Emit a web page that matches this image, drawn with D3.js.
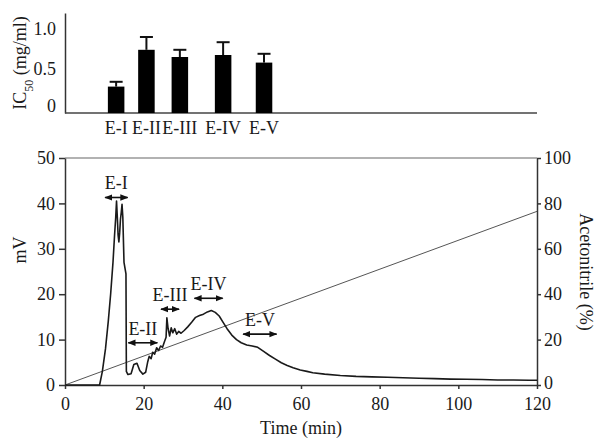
<!DOCTYPE html>
<html>
<head>
<meta charset="utf-8">
<script src="https://cdn.jsdelivr.net/npm/d3@7"></script>
<style>
  body { margin: 0; background: #fff; }
  svg text { font-family: "Liberation Serif", "Times New Roman", serif; fill: #1a1a1a; }
  .axis path, .axis line { stroke: #333; stroke-width: 1.5; }
  .axis text { font-size: 18px; }
</style>
</head>
<body>
<div id="chart"></div>
<script>
// fractions (top panel)
var fractions = ["E-I", "E-II", "E-III", "E-IV", "E-V"];
var fracTime = [13.0, 20.7, 29.2, 40.2, 50.6];   // where each bar sits on the time axis (min)
var ic50 = [0.33, 0.79, 0.70, 0.725, 0.63];
var ic50Err = [0.06, 0.16, 0.09, 0.16, 0.11];

// collection windows (arrows) for each fraction
var fracStart = [10.2, 16.1, 24.4, 32.9, 45.3];
var fracEnd = [15.9, 23.5, 29.0, 40.1, 53.8];
var fracLevel = [41.3, 9.3, 16.7, 19.1, 11.2];   // mV

// chromatogram
var time = [0, 8.8, 9.5, 10.3, 11.0, 11.6, 12.2, 12.6, 12.9, 13.1, 13.3, 13.5, 13.7, 13.9, 14.1, 14.3,
  14.5, 14.7, 15.0, 15.5, 15.6, 16.0, 16.8, 17.5, 18.3, 19.0, 19.8, 20.5, 21.0, 21.4, 21.9, 22.3,
  22.8, 23.3, 23.8, 24.3, 24.8, 25.3, 25.7, 25.9, 26.2, 26.6, 27.0, 27.4, 27.9, 28.4, 28.9, 29.5,
  30.3, 31.2, 32.2, 33.2, 34.2, 35.2, 36.2, 37.2, 38.2, 39.2, 40.2, 41.2, 42.4, 43.6, 44.8, 46.2,
  47.6, 49.0, 50.5, 52.0, 53.5, 55.0, 56.5, 58.0, 59.8, 61.5, 63.0, 66.0, 70.0, 74.0, 78.0, 82.0,
  86.0, 90.0, 94.0, 98.0, 102.0, 106.0, 110.0, 114.0, 118.0, 120];
var mV = [0, 0, 3, 8, 14, 20, 27, 33, 37, 40.5, 37, 33, 31.5, 33.5, 36.5, 38,
  39.8, 37, 27, 24.5, 3, 2.3, 2.5, 4.5, 4.8, 3.2, 2.4, 2.8, 5.0, 6.3, 5.8, 7.2,
  6.8, 8.2, 7.6, 8.6, 8.3, 9.6, 10.5, 14.8, 12.5, 10.8, 12.6, 11.5, 12.4, 11.2, 11.8, 11.4,
  12.0, 12.8, 13.8, 14.9, 15.3, 15.6, 16.1, 16.4, 16.0, 15.2, 13.8, 12.4, 11.0, 10.0, 9.3, 8.8,
  8.6, 8.3, 7.4, 6.5, 5.7, 4.9, 4.3, 3.8, 3.3, 3.0, 2.7, 2.4, 2.1, 1.9, 1.8, 1.7,
  1.6, 1.5, 1.4, 1.3, 1.25, 1.2, 1.1, 1.1, 1.05, 1.05];

// acetonitrile gradient
var gradTime = [0, 120];
var gradPct = [0, 76.5];

var xTicks = [0, 20, 40, 60, 80, 100, 120];
var mvTicks = [0, 10, 20, 30, 40, 50];
var pctTicks = [0, 20, 40, 60, 80, 100];
var icTicks = [0, 0.5, 1.0];

var svg = d3.select("#chart").append("svg")
  .attr("width", 595)
  .attr("height", 440);

var left = 65, right = 537;

var x = d3.scaleLinear().domain([0, 120]).range([left, right]);
var yMv = d3.scaleLinear().domain([0, 50]).range([385, 158]);
var yPct = d3.scaleLinear().domain([0, 100]).range([385, 158]);
var yIc = d3.scaleLinear().domain([0, 1.25]).range([113, 13]);

// ---------------- top panel ----------------
var topPanel = svg.append("g");

topPanel.append("g")
  .attr("class", "axis")
  .attr("transform", `translate(${left},0)`)
  .call(d3.axisLeft(yIc).tickValues(icTicks).tickSize(0).tickPadding(9)
    .tickFormat(d => d === 0 ? "0" : d3.format(".1f")(d)))
  .call(g => g.selectAll("text").attr("dy", "0.1em"))
  .call(g => g.selectAll(".tick").filter(d => d === 0).select("text").attr("dy", "-0.1em"));

topPanel.append("line")
  .attr("x1", left).attr("x2", right)
  .attr("y1", yIc(0)).attr("y2", yIc(0))
  .attr("stroke", "#444").attr("stroke-width", 1.5);

var barW = x(4.2) - x(0);
var capW = 13;

topPanel.selectAll(".err")
  .data(fractions)
  .enter()
  .append("line")
  .attr("x1", (d, i) => x(fracTime[i]))
  .attr("x2", (d, i) => x(fracTime[i]))
  .attr("y1", (d, i) => yIc(ic50[i]))
  .attr("y2", (d, i) => yIc(ic50[i] + ic50Err[i]))
  .attr("stroke", "#111").attr("stroke-width", 2);

topPanel.selectAll(".cap")
  .data(fractions)
  .enter()
  .append("line")
  .attr("x1", (d, i) => x(fracTime[i]) - capW / 2)
  .attr("x2", (d, i) => x(fracTime[i]) + capW / 2)
  .attr("y1", (d, i) => yIc(ic50[i] + ic50Err[i]))
  .attr("y2", (d, i) => yIc(ic50[i] + ic50Err[i]))
  .attr("stroke", "#111").attr("stroke-width", 2);

topPanel.selectAll("rect")
  .data(fractions)
  .enter()
  .append("rect")
  .attr("x", (d, i) => x(fracTime[i]) - barW / 2)
  .attr("width", barW)
  .attr("y", (d, i) => yIc(ic50[i]))
  .attr("height", (d, i) => yIc(0) - yIc(ic50[i]))
  .attr("fill", "#000");

topPanel.selectAll(".flab")
  .data(fractions)
  .enter()
  .append("text")
  .attr("x", (d, i) => x(fracTime[i]))
  .attr("y", 134)
  .attr("text-anchor", "middle")
  .style("font-size", "18px")
  .text(d => d);

var icLabel = topPanel.append("text")
  .attr("transform", "translate(26,63) rotate(-90)")
  .attr("text-anchor", "middle")
  .style("font-size", "18px");
icLabel.append("tspan").text("IC");
icLabel.append("tspan").attr("baseline-shift", "sub").style("font-size", "12px").text("50");
icLabel.append("tspan").text(" (mg/ml)");

// ---------------- bottom panel ----------------
var bottom = svg.append("g");

// frame top line
bottom.append("line")
  .attr("x1", left).attr("x2", right)
  .attr("y1", yMv(50)).attr("y2", yMv(50))
  .attr("stroke", "#999").attr("stroke-width", 1.5);

bottom.append("g")
  .attr("class", "axis")
  .attr("transform", `translate(0,${yMv(0)})`)
  .call(d3.axisBottom(x).tickValues(xTicks).tickSize(4).tickSizeOuter(0).tickPadding(7))
  .call(g => g.selectAll("text").attr("dy", "0.78em"));

bottom.append("g")
  .attr("class", "axis")
  .attr("transform", `translate(${left},0)`)
  .call(d3.axisLeft(yMv).tickValues(mvTicks).tickSize(6).tickSizeOuter(0).tickPadding(4));

bottom.append("g")
  .attr("class", "axis")
  .attr("transform", `translate(${right},0)`)
  .call(d3.axisRight(yPct).tickValues(pctTicks).tickSize(4).tickSizeOuter(0).tickPadding(3))
  .call(g => g.selectAll(".tick").filter(d => d === 0).select("text").attr("dy", "0.2em"));

// gradient
bottom.append("path")
  .datum(gradTime)
  .attr("d", d3.line().x(d => x(d)).y((d, i) => yPct(gradPct[i])))
  .attr("fill", "none")
  .attr("stroke", "#555")
  .attr("stroke-width", 1);

// chromatogram
bottom.append("path")
  .datum(time)
  .attr("d", d3.line().x(d => x(d)).y((d, i) => yMv(mV[i])))
  .attr("fill", "none")
  .attr("stroke", "#1a1a1a")
  .attr("stroke-width", 1.6)
  .attr("stroke-linejoin", "round");

// arrowheads
var defs = svg.append("defs");
defs.append("marker")
  .attr("id", "head")
  .attr("viewBox", "0 0 10 10")
  .attr("refX", 9).attr("refY", 5)
  .attr("markerWidth", 5).attr("markerHeight", 5)
  .attr("orient", "auto-start-reverse")
  .append("path")
  .attr("d", "M0,1 L10,5 L0,9 Z")
  .attr("fill", "#111");

bottom.selectAll(".arrow")
  .data(fractions)
  .enter()
  .append("line")
  .attr("x1", (d, i) => x(fracStart[i]))
  .attr("x2", (d, i) => x(fracEnd[i]))
  .attr("y1", (d, i) => yMv(fracLevel[i]))
  .attr("y2", (d, i) => yMv(fracLevel[i]))
  .attr("stroke", "#111")
  .attr("stroke-width", 1.6)
  .attr("marker-start", "url(#head)")
  .attr("marker-end", "url(#head)");

bottom.selectAll(".alab")
  .data(fractions)
  .enter()
  .append("text")
  .attr("x", (d, i) => x((fracStart[i] + fracEnd[i]) / 2))
  .attr("y", (d, i) => yMv(fracLevel[i]) - 8)
  .attr("text-anchor", "middle")
  .style("font-size", "18px")
  .text(d => d);

// axis titles
bottom.append("text")
  .attr("transform", "translate(26,250) rotate(-90)")
  .attr("text-anchor", "middle")
  .style("font-size", "18px")
  .text("mV");

bottom.append("text")
  .attr("transform", "translate(580,272) rotate(90)")
  .attr("text-anchor", "middle")
  .style("font-size", "18px")
  .text("Acetonitrile (%)");

bottom.append("text")
  .attr("x", (left + right) / 2)
  .attr("y", 434)
  .attr("text-anchor", "middle")
  .style("font-size", "18px")
  .text("Time (min)");
</script>
</body>
</html>
